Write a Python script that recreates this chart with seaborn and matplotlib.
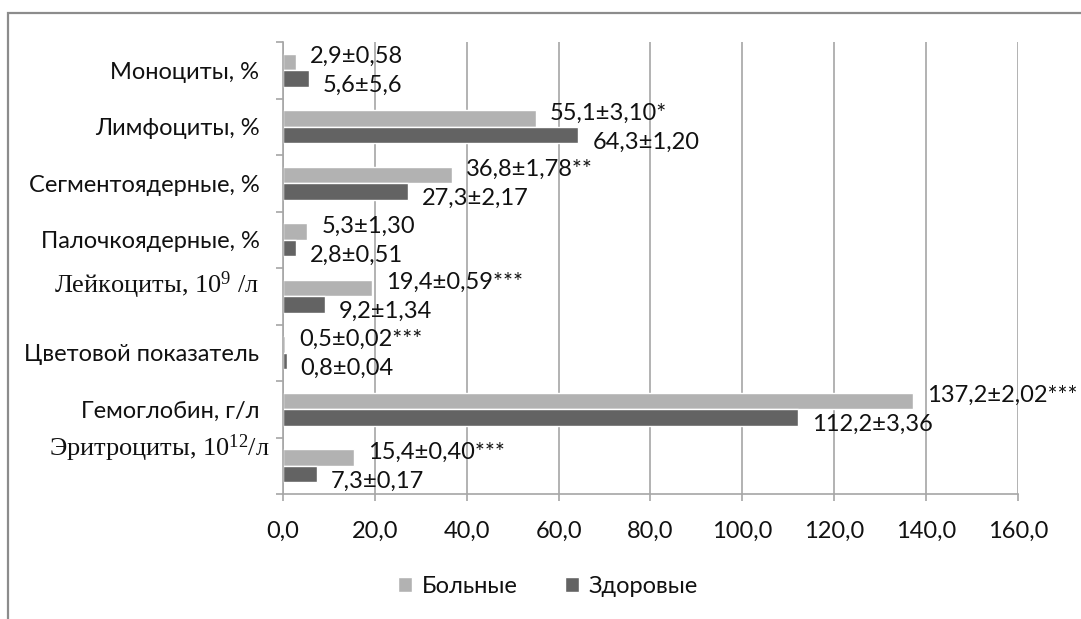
import matplotlib
matplotlib.use("Agg")
import matplotlib.pyplot as plt
import matplotlib.transforms as mtransforms
from matplotlib.patches import Rectangle
from matplotlib.ticker import FixedLocator, FuncFormatter
import numpy as np
import pandas as pd
import seaborn as sns

categories = [
    "Моноциты, %",
    "Лимфоциты, %",
    "Сегментоядерные, %",
    "Палочкоядерные, %",
    "Лейкоциты, $10^9$ /л",
    "Цветовой показатель",
    "Гемоглобин, г/л",
    "Эритроциты, $10^{12}$/л",
]
groups = ["Больные", "Здоровые"]
sick = [2.9, 55.1, 36.8, 5.3, 19.4, 0.5, 137.2, 15.4]
healthy = [5.6, 64.3, 27.3, 2.8, 9.2, 0.8, 112.2, 7.3]
sick_labels = ["2,9±0,58", "55,1±3,10*", "36,8±1,78**", "5,3±1,30",
               "19,4±0,59***", "0,5±0,02***", "137,2±2,02***", "15,4±0,40***"]
healthy_labels = ["5,6±5,6", "64,3±1,20", "27,3±2,17", "2,8±0,51",
                  "9,2±1,34", "0,8±0,04", "112,2±3,36", "7,3±0,17"]
x_ticks = [0, 20, 40, 60, 80, 100, 120, 140, 160]

df = pd.DataFrame({
    "category": categories * 2,
    "value": sick + healthy,
    "group": [groups[0]] * len(categories) + [groups[1]] * len(categories),
    "label": sick_labels + healthy_labels,
})

sns.set_style("white")
plt.rcParams["font.family"] = ["Lato", "DejaVu Sans"]
plt.rcParams["mathtext.fontset"] = "custom"
plt.rcParams["mathtext.rm"] = "Liberation Serif"
plt.rcParams["mathtext.it"] = "Liberation Serif"

txt_color = "#111111"
fs = 17

fig = plt.figure(figsize=(10.81, 6.19), dpi=100)
ax = fig.add_axes([0.2618, 0.2019, 0.9417 - 0.2618, 0.9321 - 0.2019])

sns.barplot(
    data=df, y="category", x="value", hue="group", hue_order=groups,
    order=categories, orient="h", width=0.58,
    palette=["#b2b2b2", "#636363"], saturation=1, ax=ax, legend=True,
)

# value labels next to each bar
offsets = {groups[0]: 4, groups[1]: -5}
for container, grp in zip(ax.containers, groups):
    sub = df[df["group"] == grp].set_index("category").loc[categories]
    for bar, txt in zip(container, sub["label"]):
        w = bar.get_width()
        yc = bar.get_y() + bar.get_height() / 2
        ax.annotate(txt, (w, yc), xytext=(10, offsets[grp]),
                    textcoords="offset points", va="center", ha="left",
                    fontsize=fs, color=txt_color, annotation_clip=False)

ax.set_xlim(0, 160)
ax.set_ylim(len(categories) - 0.5, -0.5)
ax.xaxis.set_major_locator(FixedLocator(x_ticks))
ax.xaxis.set_major_formatter(FuncFormatter(lambda v, p: f"{v:.1f}".replace(".", ",")))
ax.grid(axis="x", color="#a6a6a6", linewidth=1.2)
ax.set_axisbelow(True)
ax.set_xlabel("")
ax.set_ylabel("")

for side in ["top", "right"]:
    ax.spines[side].set_visible(False)
for side in ["left", "bottom"]:
    ax.spines[side].set_color("#a6a6a6")
    ax.spines[side].set_linewidth(1.2)

ax.yaxis.set_minor_locator(FixedLocator(np.arange(-0.5, len(categories), 1)))
ax.tick_params(axis="y", which="major", length=0, pad=17, labelsize=fs, labelcolor=txt_color)
ax.tick_params(axis="y", which="minor", left=True, length=5, color="#a6a6a6", width=1.2)
ax.tick_params(axis="x", which="major", bottom=True, length=5, color="#a6a6a6",
               width=1.2, pad=14, labelsize=fs, labelcolor=txt_color)

# serif labels sit higher, as in the source chart
shifts = {4: (0.0, 0.15), 7: (0.1, 0.22)}
for i, lab in enumerate(ax.get_yticklabels()):
    if i in shifts:
        lab.set_fontfamily("Liberation Serif")
        lab.set_fontsize(19)
        dx, dy = shifts[i]
        lab.set_transform(lab.get_transform() +
                          mtransforms.ScaledTranslation(dx, dy, fig.dpi_scale_trans))

leg = ax.legend(loc="center", bbox_to_anchor=(0.507, 0.052),
                bbox_transform=fig.transFigure, ncol=2, frameon=False,
                fontsize=fs, handlelength=0.6, handleheight=0.6,
                handletextpad=0.4, columnspacing=2.0)
for t in leg.get_texts():
    t.set_color(txt_color)

fig.add_artist(Rectangle((8 / 1081, -0.1), 1.2, 1 - 13 / 619 + 0.1,
                         transform=fig.transFigure, fill=False,
                         edgecolor="#8c8c8c", linewidth=1.6))

fig.savefig("out.png", dpi=100)
